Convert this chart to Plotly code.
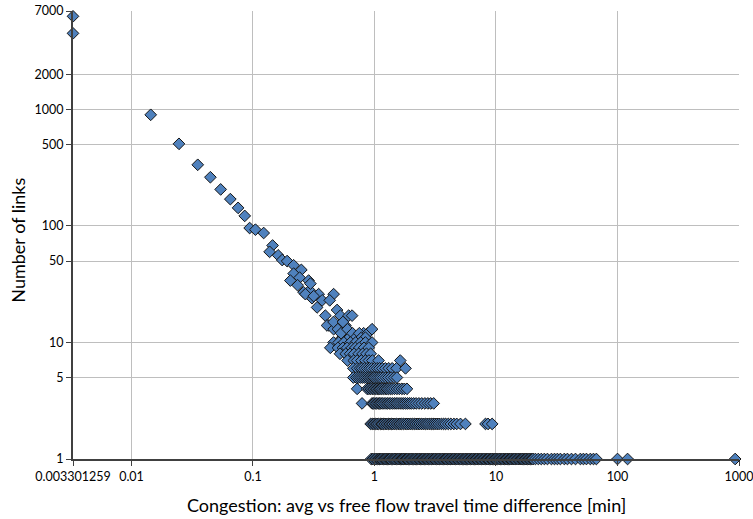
import math
import plotly.graph_objects as go

# Sparse upper part of the distribution: (congestion, number of links)
sparse_x = [0.003301259, 0.003301259, 0.0144, 0.0246, 0.0351, 0.0446, 0.0542, 0.0651,
            0.0754, 0.0855, 0.0939, 0.1047, 0.1225, 0.145, 0.137, 0.161, 0.174, 0.191,
            0.216, 0.250, 0.216, 0.242, 0.203, 0.287, 0.233, 0.261, 0.293, 0.347, 0.306,
            0.371, 0.461, 0.428, 0.337, 0.394, 0.492, 0.524, 0.420, 0.576, 0.613, 0.270,
            0.297, 0.316, 0.654, 0.407, 0.461, 0.558, 0.541, 0.815, 0.46, 0.50, 0.53,
            0.55, 0.60, 0.62, 0.66, 0.70, 0.75, 0.78, 0.85, 0.88, 0.842, 0.955]
sparse_n = [6300, 4500, 900, 507, 335, 262, 206, 170,
            143, 122, 96, 93, 87, 68, 60, 56, 51, 50,
            46, 42, 39, 36, 34, 34, 31, 27, 28, 26, 24,
            23, 26, 23, 20, 17, 19, 17, 14, 14, 17, 26,
            32, 25, 17, 14, 13, 14, 11, 12, 15, 13, 12,
            15, 13, 11, 12, 11, 12, 11, 11, 12, 11, 13]

# Congestion values of links sharing the same small count
x_n10 = [0.46, 0.507, 0.56, 0.634, 0.70, 0.77, 0.842, 0.955]
x_n9 = [0.433, 0.50, 0.55, 0.596, 0.65, 0.696, 0.75, 0.82, 0.896]
x_n8 = [0.52, 0.58, 0.63, 0.68, 0.741, 0.80, 0.86, 0.93]
x_n7 = [0.60, 0.675, 0.72, 0.78, 0.842, 0.90, 0.96, 1.08, 1.63]
x_n6 = [0.67, 0.72, 0.76, 0.79, 0.83, 0.87, 0.91, 0.95, 1.0, 1.05, 1.1, 1.16,
        1.23, 1.31, 1.4, 1.52, 1.8]
x_n5 = [0.67, 0.71, 0.74, 0.77, 0.8, 0.83, 0.86, 0.89, 0.92, 0.95, 0.98, 1.01,
        1.05, 1.09, 1.13, 1.18, 1.24, 1.3, 1.37, 1.45, 1.53]
x_n4 = [0.72, 0.87, 0.9, 0.93, 0.96, 0.99, 1.02, 1.05, 1.08, 1.11, 1.14, 1.18,
        1.22, 1.26, 1.3, 1.35, 1.4, 1.46, 1.53, 1.6, 1.68, 1.76, 1.85]
x_n3 = [0.79, 0.955, 0.98, 1.01, 1.04, 1.07, 1.1, 1.13, 1.16, 1.2, 1.24, 1.28,
        1.32, 1.36, 1.41, 1.46, 1.51, 1.56, 1.62, 1.68, 1.74, 1.8, 1.87, 1.94,
        2.01, 2.1, 2.2, 2.32, 2.45, 2.6, 2.75, 2.9, 3.07]
x_n2 = [0.93, 0.96, 0.99, 1.02, 1.05, 1.08, 1.12, 1.15, 1.18, 1.22, 1.26, 1.3,
        1.34, 1.38, 1.42, 1.47, 1.52, 1.57, 1.62, 1.67, 1.73, 1.79, 1.85, 1.92,
        1.99, 2.06, 2.13, 2.2, 2.28, 2.36, 2.45, 2.54, 2.63, 2.72, 2.82, 2.93,
        3.04, 3.15, 3.27, 3.4, 3.55, 3.7, 3.85, 4.05, 4.25, 4.5, 4.75, 5.1, 5.6,
        8.2, 8.6, 9.3]
x_n1 = [0.94, 0.97, 1.0, 1.03, 1.06, 1.09, 1.1, 1.13, 1.16, 1.19, 1.22, 1.25,
        1.28, 1.31, 1.34, 1.38, 1.41, 1.45, 1.48, 1.52, 1.56, 1.6, 1.64, 1.68,
        1.72, 1.76, 1.81, 1.85, 1.9, 1.95, 2.0, 2.05, 2.1, 2.16, 2.21, 2.27, 2.33,
        2.39, 2.45, 2.51, 2.58, 2.64, 2.71, 2.78, 2.85, 2.93, 3.0, 3.08, 3.16,
        3.24, 3.33, 3.41, 3.5, 3.6, 3.69, 3.79, 3.88, 3.98, 4.1, 4.2, 4.3, 4.42,
        4.53, 4.65, 4.77, 4.9, 5.02, 5.15, 5.3, 5.42, 5.57, 5.7, 5.85, 6.0, 6.17,
        6.33, 6.5, 6.65, 6.83, 7.0, 7.2, 7.38, 7.57, 7.77, 7.97, 8.2, 8.4, 8.6,
        8.85, 9.07, 9.3, 9.55, 9.8, 10.05, 10.3, 10.6, 10.85, 11.15, 11.45,
        11.75, 12.05, 12.35, 12.7, 13.0, 13.35, 13.7, 14.05, 14.4, 14.8, 15.2,
        15.6, 16.0, 16.4, 16.8, 17.3, 17.7, 18.2, 18.7, 19.2, 19.7, 20.2, 21.1,
        22.3, 23.6, 25.0, 26.5, 28.6, 30.3, 32.0, 33.9, 36.5, 38.7, 41.8, 45.1,
        49.5, 52.4, 55.5, 59.8, 63.4, 67.0, 100.0, 121.0, 930.0]

count_rows = [(10, x_n10), (9, x_n9), (8, x_n8), (7, x_n7), (6, x_n6),
              (5, x_n5), (4, x_n4), (3, x_n3), (2, x_n2), (1, x_n1)]

x_tick_vals = [0.003301259, 0.01, 0.1, 1, 10, 100, 1000]
x_tick_text = ["0.003301259", "0.01", "0.1", "1", "10", "100", "1000"]
y_tick_vals = [1, 5, 10, 50, 100, 500, 1000, 2000, 7000]
y_tick_text = ["1", "5", "10", "50", "100", "500", "1000", "2000", "7000"]

x_title = "Congestion: avg vs free flow travel time difference [min]"
y_title = "Number of links"

xs = list(sparse_x)
ys = list(sparse_n)
for n, row in count_rows:
    xs.extend(row)
    ys.extend([n] * len(row))

font_family = "Lato, 'Open Sans', sans-serif"

fig = go.Figure(
    go.Scatter(
        x=xs, y=ys, mode="markers", cliponaxis=False,
        marker=dict(symbol="diamond", size=9, color="#4F81BD",
                    line=dict(color="#141414", width=1)),
        hoverinfo="x+y",
    )
)

axis_common = dict(
    type="log", showgrid=True, gridcolor="#BEBEBE", gridwidth=1,
    showline=True, linecolor="#404040", linewidth=2,
    ticks="outside", ticklen=5, tickcolor="#404040", tickwidth=1,
    zeroline=False, automargin=False, ticklabeloverflow="allow",
    tickfont=dict(family=font_family, size=12.5, color="#000000"),
)

fig.update_layout(
    width=753, height=519,
    margin=dict(l=73, r=14, t=11, b=60),
    paper_bgcolor="white", plot_bgcolor="white",
    showlegend=False,
    font=dict(family=font_family, color="#000000"),
    xaxis=dict(
        axis_common, range=[math.log10(0.003301259), 3],
        tickvals=x_tick_vals, ticktext=x_tick_text,
    ),
    yaxis=dict(
        axis_common, range=[0, math.log10(7000)],
        tickvals=y_tick_vals, ticktext=y_tick_text,
    ),
    annotations=[
        # axis titles
        dict(text=x_title, xref="paper", yref="paper", x=0.5, y=-0.103,
             xanchor="center", yanchor="middle", showarrow=False,
             font=dict(size=18, family=font_family, color="#000000")),
        dict(text=y_title, xref="paper", yref="paper", x=-0.083, y=0.489,
             xanchor="center", yanchor="middle", textangle=-90, showarrow=False,
             font=dict(size=18, family=font_family, color="#000000")),
    ],
)

fig.write_html("out.html")
